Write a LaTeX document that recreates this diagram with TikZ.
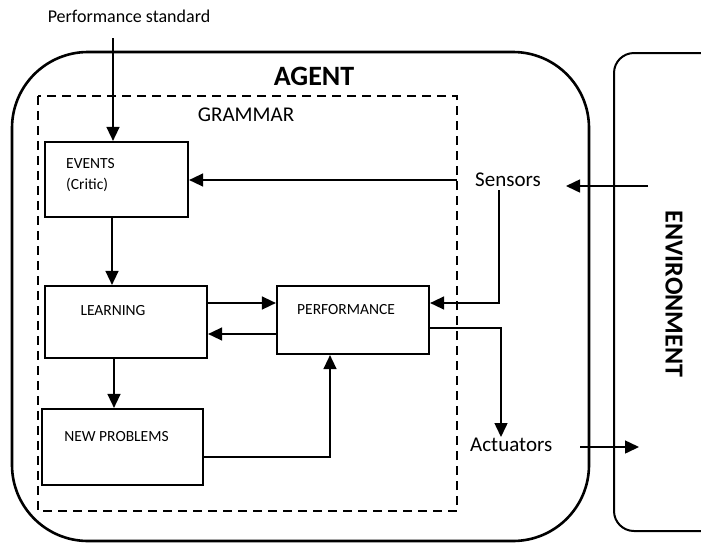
\documentclass[tikz,border=0pt]{standalone}
\usepackage{fontspec}
\setmainfont{Carlito}
\usetikzlibrary{arrows.meta}
\begin{document}
\begin{tikzpicture}[x=1pt,y=-1pt,
  box/.style={draw,line width=2.2pt,rectangle,inner sep=0pt},
  boxtext/.style={font=\fontsize{15.5}{19}\selectfont,inner sep=0pt},
  lbl/.style={font=\fontsize{21}{25}\selectfont,inner sep=0pt},
  conn/.style={line width=1.5pt,-{Triangle[length=14pt,width=13pt]}},
  plain/.style={line width=1.5pt}]
\useasboundingbox (0,0) rectangle (701,544);
\clip (0,0) rectangle (701,544);

% agent and environment outlines
\draw[line width=2.6pt,rounded corners=76pt] (12,52) rectangle (589,541);
\draw[line width=2pt,rounded corners=20pt] (614,53) rectangle (760,531);
\draw[line width=2.4pt,dash pattern=on 9pt off 6pt] (38,96) rectangle (457,511);

\node[font=\fontsize{28}{32}\selectfont\bfseries,inner sep=0pt] (agent) at (314,76) {AGENT};
\node[lbl] (grammar) at (246,115) {GRAMMAR};
\node[font=\fontsize{26}{30}\selectfont\bfseries,inner sep=0pt,rotate=-90] (env) at (674,294) {ENVIRONMENT};
\node[font=\fontsize{18}{22}\selectfont,inner sep=0pt] (ps) at (129,16) {Performance standard};

% component boxes
\node[box,minimum width=143pt,minimum height=75pt] (events) at (116.5,179.5) {};
\node[box,minimum width=162pt,minimum height=72pt] (learning) at (126,322) {};
\node[box,minimum width=152pt,minimum height=68pt] (perf) at (353,320) {};
\node[box,minimum width=161pt,minimum height=76pt] (newp) at (122.5,447) {};

\node[boxtext,anchor=west,align=left] (eventsT) at (66,175) {EVENTS\\[2pt](Critic)};
\node[boxtext] (learningT) at (113,311) {LEARNING};
\node[boxtext,anchor=west] (perfT) at (297,310) {PERFORMANCE};
\node[boxtext] (newpT) at (116.5,437) {NEW PROBLEMS};

\node[lbl,anchor=west] (sensors) at (475,180) {Sensors};
\node[lbl,anchor=west] (actuators) at (470,445) {Actuators};

% connector end points and levels
\coordinate (psend) at (113,38);
\coordinate (sL) at (457,180);
\coordinate (sD) at (499,190);
\coordinate (envS) at (648,186);
\coordinate (sIn) at (566,186);
\coordinate (aOut) at (580,447);
\coordinate (envA) at (639,447);
\coordinate (aTop) at (501,437);
\coordinate (upper) at (0,303);
\coordinate (lower) at (0,334);
\coordinate (outL) at (0,328);
\coordinate (npL) at (0,457);

% connectors
\draw[conn] (psend) -- (events.north -| psend);
\draw[conn] (sL) -- (events.east |- sL);
\draw[conn] (sD) |- (perf.east |- upper);
\draw[conn] (envS) -- (sIn);
\draw[conn] ([xshift=-4.5pt]events.south) -- ([xshift=-14pt]learning.north);
\draw[conn] (learning.east |- upper) -- (perf.west |- upper);
\draw[conn] (perf.west |- lower) -- (learning.east |- lower);
\draw[conn] ([xshift=-12pt]learning.south) -- ([xshift=-8.5pt]newp.north);
\draw[conn] (newp.east |- npL) -| ([xshift=-23pt]perf.south);
\draw[conn] (perf.east |- outL) -| (aTop);
\draw[conn] (aOut) -- (envA);
\end{tikzpicture}
\end{document}
